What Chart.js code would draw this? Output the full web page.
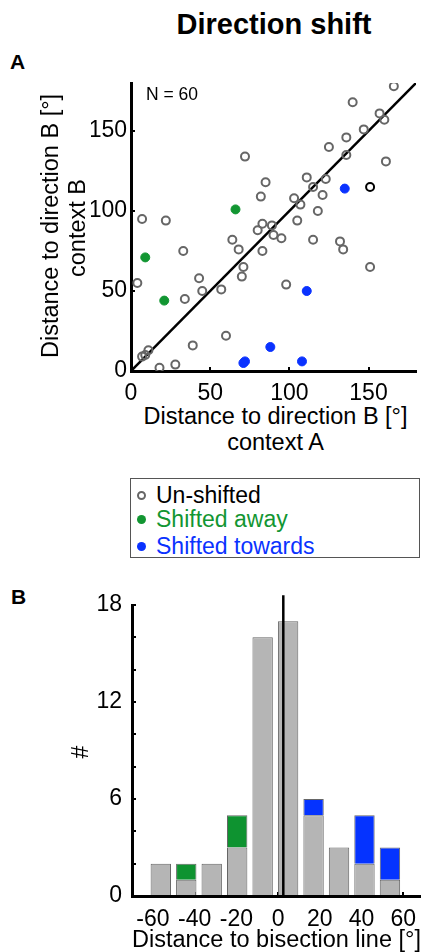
<!DOCTYPE html>
<html>
<head>
<meta charset="utf-8">
<script src="https://cdn.jsdelivr.net/npm/chart.js@4/dist/chart.umd.min.js"></script>
<style>
  body { margin: 0; background: #fff; font-family: 'Liberation Sans', Arial, sans-serif; }
  #page { position: relative; width: 422px; height: 952px; overflow: hidden; }
  canvas { position: absolute; left: 0; }
  .txt { position: absolute; color: #000; white-space: nowrap; }
  .mk { display: inline-block; position: absolute; border-radius: 50%; box-sizing: border-box; }
</style>
</head>
<body>
<div id="page">
  <div class="txt" style="left:0;width:548px;top:8px;font-size:29px;font-weight:bold;text-align:center;line-height:32px;">Direction shift</div>
  <div class="txt" style="left:10px;top:50px;font-size:21px;font-weight:bold;line-height:24px;">A</div>
  <div class="txt" style="left:11px;top:585px;font-size:21px;font-weight:bold;line-height:24px;">B</div>

  <canvas id="scatter" width="422" height="400" style="top:0"></canvas>
  <canvas id="hist" width="422" height="350" style="top:580px"></canvas>

  <div class="txt" style="left:146px;top:84px;font-size:17.5px;line-height:20px;">N = 60</div>

  <!-- scatter axis titles -->
  <div class="txt" style="left:131px;width:289px;top:403px;font-size:23.5px;line-height:26px;text-align:center;">Distance to direction B [°]<br>context A</div>
  <div class="txt" style="left:-66px;width:260px;top:201px;height:54px;font-size:23.5px;line-height:27px;text-align:center;transform:rotate(-90deg);">Distance to direction B [°]<br>context B</div>

  <!-- legend -->
  <div style="position:absolute;left:130px;top:478px;width:290px;height:80px;border:1px solid #555;box-sizing:border-box;"></div>
  <span class="mk" style="left:137px;top:491px;width:9px;height:9px;border:2px solid #666;"></span>
  <span class="mk" style="left:137px;top:515px;width:9px;height:9px;background:#129632;"></span>
  <span class="mk" style="left:137px;top:542px;width:9px;height:9px;background:#0a32ff;"></span>
  <div class="txt" style="left:156px;top:482px;font-size:23px;line-height:26px;">Un-shifted</div>
  <div class="txt" style="left:156px;top:506px;font-size:23px;line-height:26px;color:#129632;">Shifted away</div>
  <div class="txt" style="left:156px;top:533px;font-size:23px;line-height:26px;color:#0a32ff;">Shifted towards</div>

  <!-- histogram axis titles -->
  <div class="txt" style="left:132px;width:288px;top:926px;font-size:23.5px;line-height:26px;text-align:center;">Distance to bisection line [°]</div>
  <div class="txt" style="left:70px;width:20px;top:739px;font-size:23px;line-height:26px;text-align:center;transform:rotate(-90deg);">#</div>
</div>

<script>
// --- panel A: distance to direction B, context A vs context B ---
const UNSHIFTED_X = [166, 140, 157, 160, 147, 136, 125, 136, 72, 161,
                     111, 123, 85, 115, 82, 103, 121, 107, 118, 105,
                     7, 22, 83, 89, 80, 90, 95, 64, 115, 132,
                     134, 68, 83, 33, 71, 151, 70, 43, 4, 98,
                     57, 45, 34, 60, 39, 11, 9, 7, 28, 18];
const UNSHIFTED_Y = [178, 168, 161, 157, 151, 146, 140, 135, 134, 131,
                     121, 120, 118, 115, 109, 108, 110, 104, 100, 94,
                     95, 94, 92, 91, 88, 85, 83, 82, 82, 81,
                     76, 76, 75, 75, 65, 65, 59, 58, 55, 54,
                     51, 50, 45, 22, 16, 13, 10, 9, 4, 2];
const HIGHLIGHT_X = [151];
const HIGHLIGHT_Y = [115];
const AWAY_X = [66, 9, 21];
const AWAY_Y = [101, 71, 44];
const TOWARDS_X = [135, 111, 88, 72, 71, 108];
const TOWARDS_Y = [114, 50, 15, 6, 5, 6];
const DIAG = [0, 180];
const SCATTER_TICKS = [0, 50, 100, 150];

// --- panel B: histogram of distance to bisection line ---
const BIN_X = [-56.2, -44, -31.8, -19.6, -7.4, 4.8, 17, 29.2, 41.4, 53.6];
const HIST_UNSHIFTED = [2, 1, 2, 3, 16, 17, 5, 3, 2, 1];
const HIST_AWAY = [0, 1, 0, 2, 0, 0, 0, 0, 0, 0];
const HIST_TOWARDS = [0, 0, 0, 0, 0, 0, 1, 0, 3, 2];
const MEAN_LINE_X = 2.5;
const MEAN_LINE_Y = [0, 18.6];
const HIST_X_TICKS = [-60, -40, -20, 0, 20, 40, 60];
const HIST_Y_TICKS = [0, 2, 4, 6, 8, 10, 12, 14, 16, 18];
const HIST_Y_LABELED = [0, 6, 12, 18];

Chart.defaults.font.family = "'Liberation Sans', Arial, sans-serif";
Chart.defaults.color = '#000';

const pts = (xs, ys) => xs.map((x, i) => ({ x, y: ys[i] }));

// fixed axis box; drop the label overflow padding so the plot area stays put
const fixSize = (w, h) => s => {
    if (w) s.width = w;
    if (h) s.height = h;
    s.paddingLeft = s.paddingRight = s.paddingTop = s.paddingBottom = 0;
};

// axis with the tick marks pointing into the plot
function axis(extra) {
    return Object.assign({
        type: 'linear',
        border: { display: true, color: '#000', width: 3 },
        grid: { display: true, drawOnChartArea: false, drawTicks: true, tickLength: -4, color: '#000', lineWidth: 2 }
    }, extra);
}

new Chart(document.getElementById('scatter'), {
    type: 'scatter',
    data: {
        datasets: [
            { type: 'line', data: pts(DIAG, DIAG), borderColor: '#000', borderWidth: 2.5, pointRadius: 0, order: 5 },
            { data: pts(UNSHIFTED_X, UNSHIFTED_Y), pointRadius: 4, borderWidth: 2, borderColor: '#666', backgroundColor: 'rgba(0,0,0,0)', order: 4 },
            { data: pts(HIGHLIGHT_X, HIGHLIGHT_Y), pointRadius: 4, borderWidth: 2, borderColor: '#000', backgroundColor: 'rgba(0,0,0,0)', order: 3 },
            { data: pts(AWAY_X, AWAY_Y), pointRadius: 4.5, borderWidth: 1, borderColor: '#129632', backgroundColor: '#129632', order: 2 },
            { data: pts(TOWARDS_X, TOWARDS_Y), pointRadius: 4.5, borderWidth: 1, borderColor: '#0a32ff', backgroundColor: '#0a32ff', order: 1 }
        ]
    },
    options: {
        responsive: false,
        animation: false,
        devicePixelRatio: 1,
        layout: { padding: { left: 91, top: 83, right: 2, bottom: 0 } },
        plugins: { legend: { display: false }, tooltip: { enabled: false } },
        scales: {
            x: axis({
                min: 0, max: 180,
                ticks: { font: { size: 23 }, padding: 13, maxRotation: 0 },
                afterBuildTicks: s => { s.ticks = SCATTER_TICKS.map(v => ({ value: v })); },
                afterFit: fixSize(0, 29)
            }),
            y: axis({
                min: 0, max: 180,
                ticks: { font: { size: 23 }, padding: 8 },
                afterBuildTicks: s => { s.ticks = SCATTER_TICKS.map(v => ({ value: v })); },
                afterFit: fixSize(40, 0)
            })
        }
    }
});

// stacking follows "order": unshifted at the bottom, shifted counts on top
const bars = (vals, fill, order) => ({
    type: 'bar',
    data: vals.map((v, i) => ({ x: BIN_X[i], y: v || null })),
    backgroundColor: fill,
    borderColor: '#666',
    borderWidth: 1,
    barPercentage: 0.8,
    categoryPercentage: 1,
    stack: 'h',
    order
});

new Chart(document.getElementById('hist'), {
    type: 'bar',
    data: {
        datasets: [
            bars(HIST_UNSHIFTED, '#b5b5b5', 1),
            bars(HIST_AWAY, '#0e9330', 2),
            bars(HIST_TOWARDS, '#0533ff', 3),
            { type: 'line', data: MEAN_LINE_Y.map(y => ({ x: MEAN_LINE_X, y })), borderColor: '#000', borderWidth: 2.5, pointRadius: 0, clip: false, stack: 'line', order: 0 }
        ]
    },
    options: {
        responsive: false,
        animation: false,
        devicePixelRatio: 1,
        layout: { padding: { left: 92, top: 25, right: 2, bottom: 4 } },
        plugins: { legend: { display: false }, tooltip: { enabled: false } },
        scales: {
            x: axis({
                min: -70, max: 68, stacked: true, offset: false,
                grid: { display: true, offset: false, drawOnChartArea: false, drawTicks: true, tickLength: -4, color: '#000', lineWidth: 2 },
                ticks: { font: { size: 23 }, padding: 14, maxRotation: 0 },
                afterBuildTicks: s => { s.ticks = HIST_X_TICKS.map(v => ({ value: v })); },
                afterFit: fixSize(0, 30)
            }),
            y: axis({
                min: 0, max: 18, stacked: true,
                ticks: { font: { size: 23 }, padding: 14, callback: v => HIST_Y_LABELED.includes(v) ? String(v) : '' },
                afterBuildTicks: s => { s.ticks = HIST_Y_TICKS.map(v => ({ value: v })); },
                afterFit: fixSize(40, 0)
            })
        }
    }
});
</script>
</body>
</html>
